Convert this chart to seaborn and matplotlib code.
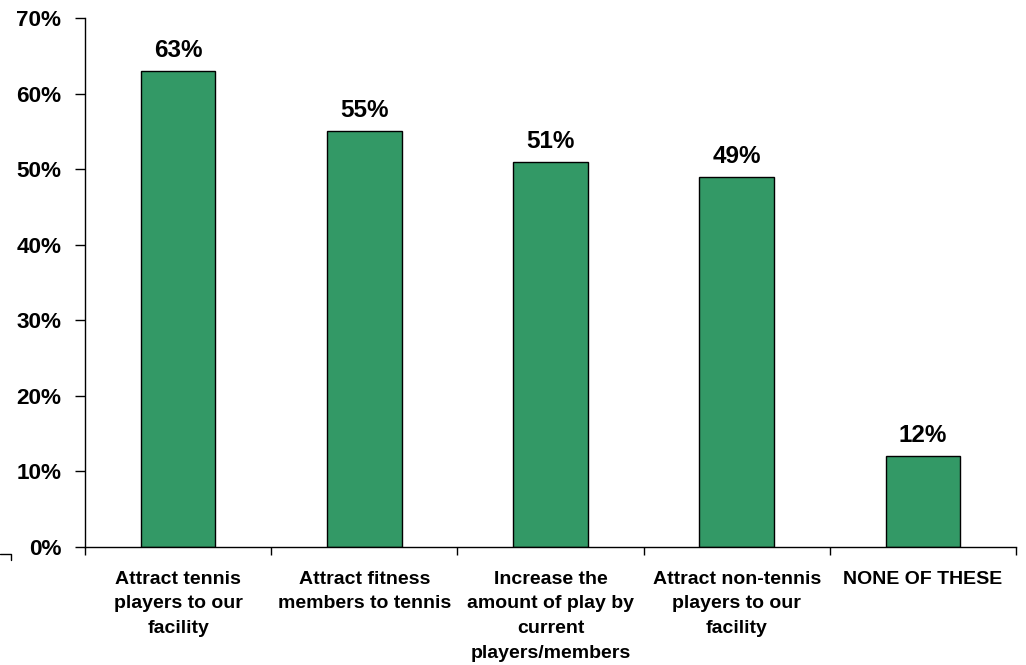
import matplotlib
matplotlib.use("Agg")
import matplotlib.pyplot as plt
from matplotlib.lines import Line2D
from matplotlib.ticker import FixedLocator, PercentFormatter
import seaborn as sns
import pandas as pd

categories = [
    "Attract tennis\nplayers to our\nfacility",
    "Attract fitness\nmembers to tennis",
    "Increase the\namount of play by\ncurrent\nplayers/members",
    "Attract non-tennis\nplayers to our\nfacility",
    "NONE OF THESE",
]
values = [63, 55, 51, 49, 12]
y_ticks = [0, 10, 20, 30, 40, 50, 60, 70]

sns.set_style("white")
plt.rcParams["font.family"] = ["Liberation Sans", "DejaVu Sans"]
plt.rcParams["font.weight"] = "bold"
plt.rcParams["text.color"] = "black"
plt.rcParams["xtick.color"] = "black"
plt.rcParams["ytick.color"] = "black"

df = pd.DataFrame({"category": categories, "value": values})

fig = plt.figure(figsize=(10.26, 6.65), dpi=100)
ax = fig.add_axes([85 / 1026, 1 - 547 / 665, (1016 - 85) / 1026, (547 - 18) / 665])

sns.barplot(data=df, x="category", y="value", ax=ax, color="#339966",
            saturation=1, width=0.4, edgecolor="black", linewidth=1)

for i, v in enumerate(values):
    ax.text(i, v + 1.2, f"{v}%", ha="center", va="bottom",
            fontsize=17.5, fontweight="bold", color="black")

ax.set_xlim(-0.5, len(categories) - 0.5)
ax.set_ylim(0, 70)
ax.set_yticks(y_ticks)
ax.yaxis.set_major_formatter(PercentFormatter(decimals=0))
ax.set_xlabel("")
ax.set_ylabel("")

for s in ["top", "right"]:
    ax.spines[s].set_visible(False)
for s in ["left", "bottom"]:
    ax.spines[s].set_color("black")
    ax.spines[s].set_linewidth(1)

ax.tick_params(axis="y", which="major", left=True, direction="out", length=7,
               width=1, color="black", labelcolor="black", pad=10, labelsize=16.2)
ax.tick_params(axis="x", which="major", bottom=True, length=0, pad=17,
               labelsize=14, labelcolor="black")
ax.xaxis.set_minor_locator(FixedLocator([i - 0.5 for i in range(len(categories) + 1)]))
ax.tick_params(axis="x", which="minor", bottom=True, direction="out", length=6,
               width=1, color="black")
for lbl in ax.get_xticklabels():
    lbl.set_fontweight("bold")
    lbl.set_linespacing(1.6)
    lbl.set_va("top")
for lbl in ax.get_yticklabels():
    lbl.set_fontweight("bold")

# small corner bracket at lower left
fig.add_artist(Line2D([0, 10.5 / 1026, 10.5 / 1026],
                      [1 - 554 / 665, 1 - 554 / 665, 1 - 560 / 665],
                      color="black", linewidth=1))

fig.savefig("out.png", dpi=100)
